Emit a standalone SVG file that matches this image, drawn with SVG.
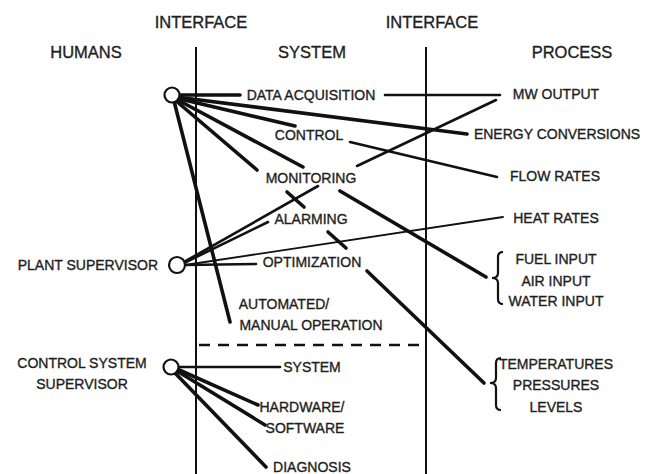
<svg xmlns="http://www.w3.org/2000/svg" width="652" height="474" viewBox="0 0 652 474">
<defs>
<style>
text{font-family:"Liberation Sans",Arial,sans-serif;fill:#1e1e1e;stroke:#1e1e1e;stroke-width:0.35;text-anchor:middle}
.t{font-size:16.5px}
.l{font-size:14px}
.thick{stroke:#111;stroke-width:3.6;stroke-linecap:round;fill:none}
.med{stroke:#111;stroke-width:2.6;stroke-linecap:round;fill:none}
.thin{stroke:#111;stroke-width:1.8;stroke-linecap:round;fill:none}
.node{fill:#fff;stroke:#111;stroke-width:2.2}
.brace{fill:none;stroke:#111;stroke-width:2.2}
</style>
</defs>
<rect width="652" height="474" fill="#fff"/>
<g id="headers">
<text class="t" x="201" y="28">INTERFACE</text>
<text class="t" x="432" y="28">INTERFACE</text>
<text class="t" x="86" y="58">HUMANS</text>
<text class="t" x="312" y="58">SYSTEM</text>
<text class="t" x="572" y="58">PROCESS</text>
</g>
<g id="interfaces">
<line x1="196" y1="47" x2="196" y2="474" stroke="#111" stroke-width="2"/>
<line x1="426" y1="47" x2="426" y2="474" stroke="#111" stroke-width="2"/>
<line x1="199" y1="345" x2="424" y2="345" stroke="#111" stroke-width="2.4" stroke-dasharray="11,8"/>
</g>
<g id="connectors">
<line class="thick" x1="174" y1="95" x2="240" y2="95"/>
<line class="thick" x1="176" y1="97" x2="467" y2="134"/>
<line class="thick" x1="176" y1="98" x2="295" y2="126"/>
<line class="thick" x1="176" y1="99" x2="303" y2="167"/>
<line class="thick" x1="175" y1="100" x2="257" y2="170"/>
<line class="thick" x1="174" y1="101" x2="230" y2="322"/>
<line class="med" x1="385" y1="95" x2="500" y2="95"/>
<line class="med" x1="350" y1="142" x2="497" y2="177"/>
<line class="med" x1="357" y1="166" x2="496" y2="100"/>
<line class="thick" x1="340" y1="191" x2="486" y2="277"/>
<line class="thick" x1="287" y1="192" x2="304" y2="207"/>
<line class="thick" x1="328" y1="232" x2="346" y2="248"/>
<line class="thick" x1="367" y1="271" x2="484" y2="383"/>
<line class="med" x1="184" y1="262" x2="318" y2="186"/>
<line class="med" x1="184" y1="263" x2="268" y2="222"/>
<line class="thin" x1="185" y1="265" x2="503" y2="217"/>
<line class="med" x1="185" y1="265" x2="256" y2="264"/>
<line class="med" x1="178" y1="367" x2="280" y2="367"/>
<line class="thick" x1="177" y1="369" x2="258" y2="405"/>
<line class="thick" x1="177" y1="371" x2="265" y2="425"/>
<line class="thick" x1="175" y1="373" x2="266" y2="467"/>
</g>
<g id="humans">
<g id="h-top"><circle class="node" cx="172" cy="95" r="7.5"/></g>
<g id="h-plant"><circle class="node" cx="177" cy="265" r="8"/><text class="l" x="158" y="270" style="text-anchor:end">PLANT SUPERVISOR</text></g>
<g id="h-control"><circle class="node" cx="171" cy="367" r="7.5"/><text class="l" x="82" y="368">CONTROL SYSTEM</text><text class="l" x="82" y="389">SUPERVISOR</text></g>
</g>
<g id="system">
<g id="s-daq"><text class="l" x="311" y="100">DATA ACQUISITION</text></g>
<g id="s-control"><text class="l" x="309" y="140">CONTROL</text></g>
<g id="s-monitor"><text class="l" x="311" y="183">MONITORING</text></g>
<g id="s-alarm"><text class="l" x="311" y="224">ALARMING</text></g>
<g id="s-optim"><text class="l" x="312" y="267">OPTIMIZATION</text></g>
<g id="s-auto"><text class="l" x="284" y="309">AUTOMATED/</text><text class="l" x="311" y="330">MANUAL OPERATION</text></g>
<g id="s-system"><text class="l" x="312" y="372">SYSTEM</text></g>
<g id="s-hw"><text class="l" x="302" y="412">HARDWARE/</text><text class="l" x="305" y="433">SOFTWARE</text></g>
<g id="s-diag"><text class="l" x="312" y="472">DIAGNOSIS</text></g>
</g>
<g id="process">
<g id="p-mw"><text class="l" x="556" y="99">MW OUTPUT</text></g>
<g id="p-energy"><text class="l" x="557" y="139">ENERGY CONVERSIONS</text></g>
<g id="p-flow"><text class="l" x="555" y="181">FLOW RATES</text></g>
<g id="p-heat"><text class="l" x="556" y="223">HEAT RATES</text></g>
<g id="p-inputs">
<path class="brace" d="M503,252 q-5,0 -5,5 v16 q0,5 -6,5 q6,0 6,5 v16 q0,5 5,5"/>
<text class="l" x="556" y="264">FUEL INPUT</text><text class="l" x="556" y="286">AIR INPUT</text><text class="l" x="556" y="306">WATER INPUT</text>
</g>
<g id="p-temps">
<path class="brace" d="M501,358 q-5,0 -5,5 v15 q0,5 -6,5 q6,0 6,5 v17 q0,5 5,5"/>
<text class="l" x="556" y="369">TEMPERATURES</text><text class="l" x="556" y="390">PRESSURES</text><text class="l" x="556" y="412">LEVELS</text>
</g>
</g>
</svg>
